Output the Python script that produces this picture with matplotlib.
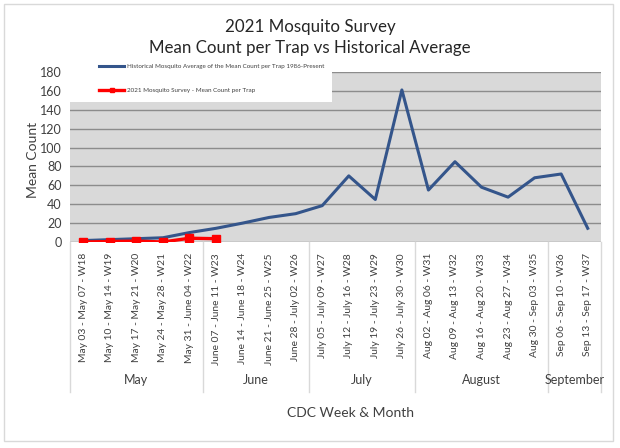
import matplotlib
matplotlib.use("Agg")
import matplotlib.pyplot as plt
from matplotlib.patches import Rectangle

weeks = ["May 03 - May 07 - W18", "May 10 - May 14 - W19", "May 17 - May 21 - W20",
         "May 24 - May 28 - W21", "May 31 - June 04 - W22", "June 07 - June 11 - W23",
         "June 14 - June 18 - W24", "June 21 - June 25 - W25", "June 28 - July 02 - W26",
         "July 05 - July 09 - W27", "July 12 - July 16 - W28", "July 19 - July 23 - W29",
         "July 26 - July 30 - W30", "Aug 02 - Aug 06 - W31", "Aug 09 - Aug 13 - W32",
         "Aug 16 - Aug 20 - W33", "Aug 23 - Aug 27 - W34", "Aug 30 - Sep 03 - W35",
         "Sep 06 - Sep 10 - W36", "Sep 13 - Sep 17 - W37"]
historical = [1.5, 2.5, 3.5, 4.5, 10, 14.5, 20, 26, 30, 38.5, 70, 45, 161, 55, 85, 58, 47.5, 68, 72, 14.5]
survey_2021 = [0, 0.5, 1, 0, 4, 3.5]
months = ["May", "June", "July", "August", "September"]
month_sizes = [5, 4, 4, 5, 2]

plt.rcParams['font.family'] = ['Lato', 'DejaVu Sans']

W, H = 620, 448
fig = plt.figure(figsize=(6.2, 4.48), dpi=100)
fig.patch.set_facecolor('white')

# outer border
fig.patches.append(Rectangle((4 / W, 1 - 441 / H), 609 / W, 437 / H, transform=fig.transFigure,
                             fill=False, edgecolor='#d9d9d9', lw=1))

left, right, top, bottom = 70, 601, 72, 242
ax = fig.add_axes([left / W, 1 - bottom / H, (right - left) / W, (bottom - top) / H])
ax.set_facecolor('#d9d9d9')
for s in ax.spines.values():
    s.set_visible(False)

n = len(weeks)
x = list(range(n))
ax.set_xlim(-0.5, n - 0.5)
ax.set_ylim(0, 180)
ax.set_yticks(range(0, 181, 20))
ax.yaxis.grid(True, color='#8c8c8c', lw=1)
ax.set_axisbelow(True)
ax.tick_params(axis='y', length=0, labelsize=9, pad=6)
ax.set_xticks(x)
ax.set_xticklabels(weeks, rotation=90, fontsize=7.4, va='top', ha='center')
ax.tick_params(axis='x', length=0, pad=8)

ax.plot(x, historical, color='#34558b', lw=2.2, zorder=3,
        label='Historical Mosquito Average of the Mean Count per Trap 1986-Present')
ax.plot(x[:len(survey_2021)], survey_2021, color='#ff0000', lw=2.4, marker='s', ms=5.8,
        zorder=4, label='2021 Mosquito Survey - Mean Count per Trap')

ax.set_ylabel('Mean Count', fontsize=10)
ax.yaxis.set_label_coords((39 - left) / (right - left), (bottom - 160) / (bottom - top))

# legend background
ax.add_patch(Rectangle((left / W, 1 - 102 / H), (332 - left) / W, 44 / H,
                       transform=fig.transFigure, facecolor='white', edgecolor='none',
                       zorder=5, clip_on=False))
leg = ax.legend(loc='upper left', bbox_to_anchor=(99 / W, 1 - 64 / H), bbox_transform=fig.transFigure,
                frameon=False, fontsize=4.5, handlelength=4, handletextpad=0.5,
                labelspacing=2.9, borderpad=0, borderaxespad=0, markerscale=0.4)
leg.set_zorder(6)
for t in leg.get_texts():
    t.set_color('#404040')

# month groups
xt = ax.get_xaxis_transform()
ybot = (bottom - 392) / (bottom - top)
ymon = (bottom - 380) / (bottom - top)
start = 0
bounds = [-0.5]
for m, sz in zip(months, month_sizes):
    center = start + (sz - 1) / 2
    ax.text(center, ymon, m, transform=xt, ha='center', va='center', fontsize=9, color='#404040')
    start += sz
    bounds.append(start - 0.5)
for b in bounds:
    ax.plot([b, b], [0, ybot], transform=xt, color='#d9d9d9', lw=1, clip_on=False)

fig.text(350 / W, 1 - 413 / H, 'CDC Week & Month', ha='center', va='center', fontsize=10, color='#404040')
fig.text(310 / W, 1 - 27 / H, '2021 Mosquito Survey', ha='center', va='center', fontsize=12.2, color='#262626')
fig.text(310 / W, 1 - 48 / H, 'Mean Count per Trap vs Historical Average', ha='center', va='center',
         fontsize=12.2, color='#262626')

for lab in ax.get_xticklabels() + ax.get_yticklabels():
    lab.set_color('#404040')
ax.yaxis.label.set_color('#404040')

fig.savefig('out.png', dpi=100)
